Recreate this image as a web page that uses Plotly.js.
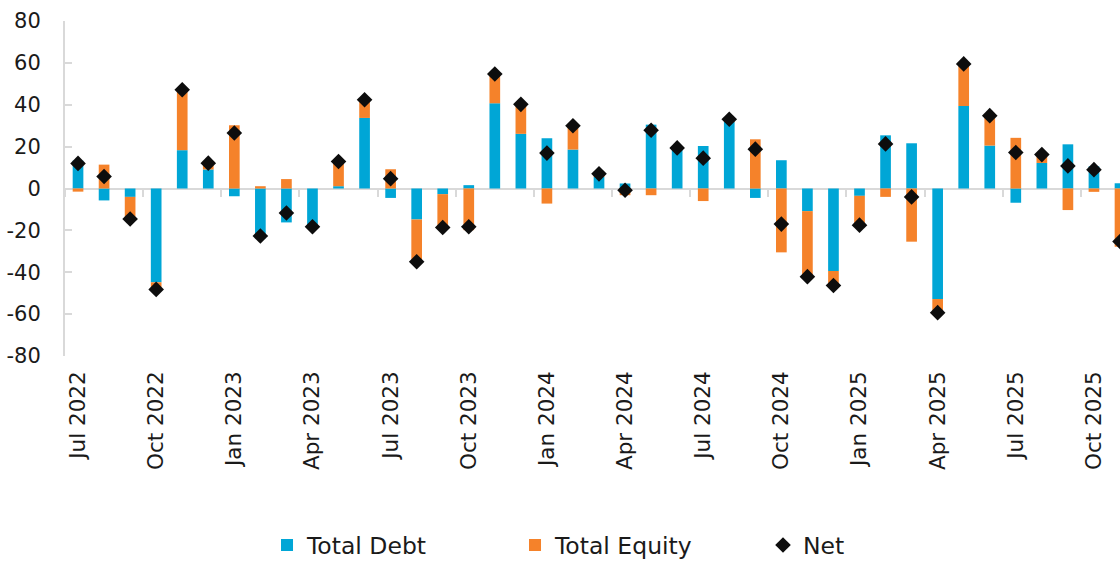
<!DOCTYPE html>
<html>
<head>
<meta charset="utf-8">
<script src="https://cdn.plot.ly/plotly-3.0.1.min.js"></script>
<style>html,body{margin:0;padding:0;background:#fff;}#chart{width:1120px;height:561px;}</style>
</head>
<body>
<div id="chart"></div>
<script>
const months = [
  "Jul 2022","Aug 2022","Sep 2022","Oct 2022","Nov 2022","Dec 2022",
  "Jan 2023","Feb 2023","Mar 2023","Apr 2023","May 2023","Jun 2023",
  "Jul 2023","Aug 2023","Sep 2023","Oct 2023","Nov 2023","Dec 2023",
  "Jan 2024","Feb 2024","Mar 2024","Apr 2024","May 2024","Jun 2024",
  "Jul 2024","Aug 2024","Sep 2024","Oct 2024","Nov 2024","Dec 2024",
  "Jan 2025","Feb 2025","Mar 2025","Apr 2025","May 2025","Jun 2025",
  "Jul 2025","Aug 2025","Sep 2025","Oct 2025","Nov 2025"
];
const totalDebt = [
  13.3, -5.7, -4.0, -44.8, 18.3, 9.1,
  -3.7, -23.8, -16.2, -18.3, 1.1, 33.7,
  -4.5, -14.8, -2.7, 1.6, 40.7, 26.1,
  24.0, 18.6, 5.5, 2.4, 30.5, 19.0,
  20.3, 31.8, -4.5, 13.5, -10.8, -39.4,
  -3.5, 25.4, 21.6, -52.8, 39.4, 20.5,
  -6.8, 12.2, 21.1, 10.6, 2.5
];
const totalEquity = [
  -1.5, 11.4, -10.6, -3.4, 28.9, 3.0,
  30.2, 1.1, 4.5, 0.0, 11.8, 8.7,
  9.2, -20.2, -15.9, -19.9, 14.0, 14.1,
  -7.2, 11.4, 1.5, -3.2, -3.2, 0.5,
  -6.0, 1.3, 23.5, -30.5, -31.3, -6.9,
  -14.0, -4.0, -25.4, -6.5, 20.1, 14.3,
  24.2, 4.0, -10.3, -1.6, -27.8
];
const net = [
  12.0, 5.7, -14.6, -48.2, 47.2, 12.1,
  26.5, -22.7, -11.7, -18.3, 12.9, 42.4,
  4.7, -35.0, -18.6, -18.3, 54.7, 40.2,
  16.9, 30.0, 7.0, -0.8, 27.8, 19.4,
  14.5, 33.1, 18.8, -17.0, -42.1, -46.3,
  -17.5, 21.3, -4.0, -59.3, 59.5, 34.8,
  17.2, 16.2, 10.8, 9.0, -25.3
];
const yTickVals = [-80, -60, -40, -20, 0, 20, 40, 60, 80];
const yTickText = ["-80", "-60", "-40", "-20", "0", "20", "40", "60", "80"];

const FONT = "DejaVu Sans";
const AX = "#d9d9d9";

const traces = [
  {type: "bar", name: "Total Debt", x: months, y: totalDebt,
   marker: {color: "#00A6D6"}, hoverinfo: "x+y"},
  {type: "bar", name: "Total Equity", x: months, y: totalEquity,
   marker: {color: "#F5822A"}, hoverinfo: "x+y"},
  {type: "scatter", mode: "markers", name: "Net", x: months, y: net,
   marker: {symbol: "diamond", size: 12, color: "#0d0d0d"}, cliponaxis: false},
  {type: "scatter", mode: "markers", x: months, y: net, xaxis: "x2", yaxis: "y",
   marker: {opacity: 0, size: 1}, showlegend: false, hoverinfo: "skip"}
];

const layout = {
  width: 1120, height: 561,
  margin: {l: 65, r: 0, t: 21, b: 205, pad: 0},
  paper_bgcolor: "#fff", plot_bgcolor: "#fff",
  font: {family: FONT, size: 21, color: "#1a1a1a"},
  barmode: "relative",
  bargap: 0.59,
  showlegend: true,
  legend: {
    orientation: "h", xref: "container", yref: "container",
    x: 0.2384, xanchor: "left", y: 0.028, yanchor: "middle",
    entrywidth: 203, entrywidthmode: "pixels",
    font: {family: FONT, size: 23.5, color: "#1a1a1a"},
    itemsizing: "constant", traceorder: "normal"
  },
  xaxis: {
    type: "category", categoryorder: "array", categoryarray: months,
    range: [-0.5, 40.0],
    tickmode: "linear", tick0: 0, dtick: 3,
    tickangle: -90, ticks: "", showline: false, showgrid: false, zeroline: false,
    ticklabelstandoff: 10,
    tickfont: {family: FONT, size: 21.5, color: "#1a1a1a"},
    fixedrange: true
  },
  xaxis2: {
    type: "category", categoryorder: "array", categoryarray: months,
    overlaying: "x", matches: "x", anchor: "free", position: 0.5, side: "bottom",
    tickmode: "linear", tick0: 0, dtick: 3, tickson: "boundaries",
    ticks: "outside", ticklen: 7, tickwidth: 2, tickcolor: AX,
    showticklabels: false, showline: false, showgrid: false, zeroline: false
  },
  yaxis: {
    range: [-80, 80], tickmode: "array", tickvals: yTickVals, ticktext: yTickText,
    showgrid: false, zeroline: true, zerolinecolor: AX, zerolinewidth: 2,
    showline: true, linecolor: AX, linewidth: 2,
    ticks: "inside", ticklen: 7, tickwidth: 2, tickcolor: AX,
    ticklabelstandoff: 18,
    tickfont: {family: FONT, size: 21, color: "#1a1a1a"},
    fixedrange: true
  }
};

Plotly.newPlot("chart", traces, layout, {displayModeBar: false, staticPlot: true});
</script>
</body>
</html>
